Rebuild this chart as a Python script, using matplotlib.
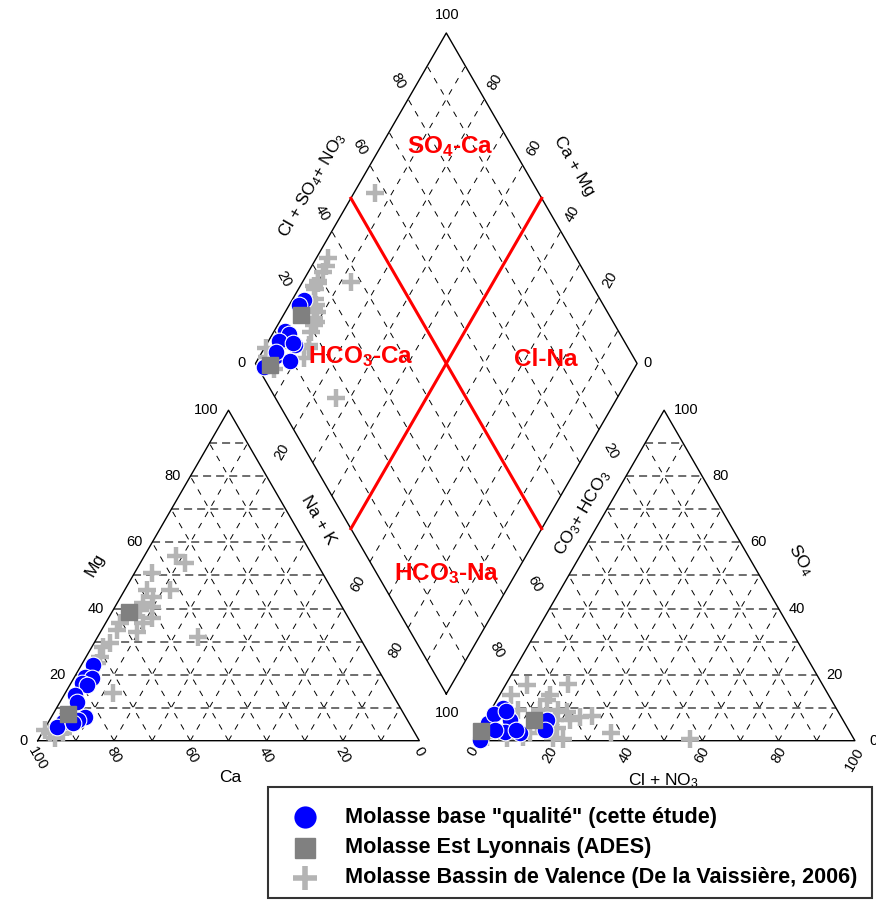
import numpy as np
import matplotlib.pyplot as plt
from matplotlib.patches import Rectangle

plt.rcParams['font.family'] = ['Liberation Sans', 'DejaVu Sans']
plt.rcParams['mathtext.default'] = 'regular'
plt.rcParams['lines.scale_dashes'] = False

# ---------------- data (% meq) ----------------
# Molasse base "qualite" (cette etude)
blue_mg = [22.9, 19.4, 18.9, 17.4, 16.9, 13.8, 11.8, 7.3, 6.3, 5.8, 4.2, 5.3]
blue_na = [3.1, 2.7, 4.7, 2.9, 4.4, 2.9, 4.3, 8.8, 7.5, 3.8, 2.9, 6.7]
blue_so4 = [6.3, 3.2, 9.8, 6.3, 2.2, 2.7, 5.3, 8.0, 9.0, 3.2, 0.2, 3.2]
blue_cl = [16.1, 17.1, 2.9, 6.5, 11.1, 6.9, 1.3, 1.5, 4.0, 4.0, 1.6, 9.7]

# Molasse Est Lyonnais (ADES)
ades_mg = [38.9, 8.1]
ades_na = [4.5, 3.9]
ades_so4 = [6.3, 3.0]
ades_cl = [12.8, 0.5]

# Molasse Bassin de Valence (De la Vaissiere, 2006)
val_mg = [56.0, 53.7, 50.7, 45.6, 45.6, 43.6, 41.6, 40.6, 39.6, 37.0, 35.5, 33.0, 33.5,
          35.5, 31.5, 29.6, 28.4, 25.4, 23.4, 14.5, 4.2, 2.2, 0.7, 3.2, 2.2]
val_na = [8.3, 11.8, 4.5, 11.9, 5.8, 8.5, 6.9, 9.6, 7.0, 11.4, 9.9, 9.5, 4.0,
          3.8, 26.3, 4.2, 3.0, 3.6, 3.8, 12.5, 5.5, 2.1, 4.2, 0.3, 5.6]
val_so4 = [3.8, 9.3, 9.3, 1.2, 12.3, 16.9, 6.3, 0.7, 0.4, 13.8, 5.3, 9.3, 8.8,
           17.1, 2.2, 6.3, 7.5, 13.8, 7.3, 2.2, 0.5, 2.0, 0.7, 3.0, 1.0]
val_cl = [20.0, 7.1, 17.6, 12.5, 13.1, 5.5, 18.3, 20.6, 23.4, 3.1, 14.0, 12.8, 20.1,
          16.3, 13.7, 22.2, 27.3, 13.2, 24.3, 35.1, 56.5, 2.0, 8.4, 2.0, 3.0]

legend_labels = ['Molasse base "qualité" (cette étude)',
                 'Molasse Est Lyonnais (ADES)',
                 'Molasse Bassin de Valence (De la Vaissière, 2006)']

# ---------------- geometry ----------------
H = np.sqrt(3) / 2
GAP = 0.1415
S = 381.6            # pixels per triangle side
X0, Y0 = 37.7, 740.7  # pixel position of the cation triangle's left corner

B = np.array([1 + GAP / 2, GAP * H])
U = np.array([-0.5, H])
V = np.array([0.5, H])


def px(x, y):
    return (x - X0) / S, (Y0 - y) / S


def cation_xy(mg, na):
    mg = np.asarray(mg) / 100
    na = np.asarray(na) / 100
    return na + mg / 2, mg * H


def anion_xy(so4, cl):
    so4 = np.asarray(so4) / 100
    cl = np.asarray(cl) / 100
    return 1 + GAP + cl + so4 / 2, so4 * H


def diamond_xy(na, so4, cl):
    n = np.asarray(na) / 100
    a = (np.asarray(so4) + np.asarray(cl)) / 100
    p = B[:, None] + np.outer(U, 1 - n) + np.outer(V, a)
    return p[0], p[1]


fig = plt.figure(figsize=(8.76, 9.0), dpi=100)
ax = fig.add_axes([0, 0, 1, 1])
ax.set_xlim(-X0 / S, (876 - X0) / S)
ax.set_ylim((Y0 - 900) / S, Y0 / S)
ax.axis('off')

HSTY = dict(color='#555555', lw=1.2, ls=(0, (5.8, 3.6)), zorder=1)
SSTY = dict(color='black', lw=0.7, ls=(0, (4.3, 5.0)), zorder=1)


def tri_grid(x0):
    for i in range(1, 10):
        f = i / 10
        ax.plot([x0 + f / 2, x0 + 1 - f / 2], [f * H, f * H], **HSTY)
        ax.plot([x0 + f, x0 + f / 2], [0, f * H], **SSTY)
        ax.plot([x0 + f, x0 + (1 + f) / 2], [0, (1 - f) * H], **SSTY)
    ax.plot([x0, x0 + 1, x0 + 0.5, x0], [0, 0, H, 0], color='black', lw=1, zorder=2)


tri_grid(0)
tri_grid(1 + GAP)

# diamond grid
for i in range(1, 10):
    f = i / 10
    p0 = B + f * V
    p1 = p0 + U
    ax.plot([p0[0], p1[0]], [p0[1], p1[1]], **SSTY)
    q0 = B + f * U
    q1 = q0 + V
    ax.plot([q0[0], q1[0]], [q0[1], q1[1]], **SSTY)
corners = np.array([B, B + U, B + U + V, B + V, B])
ax.plot(corners[:, 0], corners[:, 1], color='black', lw=1, zorder=2)

# red dividing lines
for p0, p1 in [(B + 0.5 * V, B + 0.5 * V + U), (B + 0.5 * U, B + 0.5 * U + V)]:
    ax.plot([p0[0], p1[0]], [p0[1], p1[1]], color='#ff0000', lw=2.2, zorder=3)

red = dict(color='#ff0000', fontsize=17.5, fontweight='bold', ha='center', va='center', zorder=6)
ax.text(*px(450, 147), r'SO$_4$-Ca', **red)
ax.text(*px(361, 357), r'HCO$_3$-Ca', **red)
ax.text(*px(546, 360), 'Cl-Na', **red)
ax.text(*px(447, 574), r'HCO$_3$-Na', **red)

# ---------------- tick labels ----------------
TK = 10.5
ticks = [0, 20, 40, 60, 80, 100]
for t in ticks:
    f = t / 100
    # Ca along bottom of cation triangle (100 at left)
    ax.text(1 - f, -4 / S, str(t), rotation=-60, ha='center', va='top', fontsize=TK)
    # Mg along left edge
    ax.text(f / 2 - 10 / S, f * H, str(t), ha='right', va='center', fontsize=TK)
    # Cl + NO3 along bottom of anion triangle
    ax.text(1 + GAP + f, -4 / S, str(t), rotation=60, ha='center', va='top', fontsize=TK)
    # SO4 along right edge
    dx = 14 if t == 0 else 10
    ax.text(2 + GAP - f / 2 + dx / S, f * H, str(t), ha='left', va='center', fontsize=TK)

for t in [0, 20, 40, 60, 80]:
    f = t / 100
    p = B + U + f * V
    if t:
        ax.text(p[0] - 10 / S, p[1] + 18 / S, str(t), rotation=-60,
                ha='center', va='center', fontsize=TK)
    else:
        ax.text(p[0] - 10 / S, p[1], '0', ha='right', va='center', fontsize=TK)
    p = B + V + f * U
    if t:
        ax.text(p[0] + 11 / S, p[1] + 17 / S, str(t), rotation=60,
                ha='center', va='center', fontsize=TK)
    else:
        ax.text(p[0] + 6 / S, p[1], '0', ha='left', va='center', fontsize=TK)
for t in [20, 60, 80]:
    f = t / 100
    p = B + U * (1 - f)
    ax.text(p[0] - 12 / S, p[1] - 22 / S, str(t), rotation=60, ha='center', va='center', fontsize=TK)
    p = B + V * (1 - f)
    ax.text(p[0] + 12 / S, p[1] - 22 / S, str(t), rotation=-60, ha='center', va='center', fontsize=TK)
ax.text(*px(447, 15), '100', ha='center', va='center', fontsize=TK)
ax.text(*px(447, 713), '100', ha='center', va='center', fontsize=TK)

# ---------------- axis titles ----------------
TT = 12.5
ax.text(*px(230, 778), 'Ca', ha='center', va='center', fontsize=TT)
ax.text(*px(95, 565), 'Mg', rotation=60, ha='center', va='center', fontsize=TT)
ax.text(*px(318, 520), 'Na + K', rotation=-60, ha='center', va='center', fontsize=TT)
ax.text(*px(312, 185), r'Cl + SO$_4$+ NO$_3$', rotation=60, ha='center', va='center', fontsize=TT)
ax.text(*px(574, 166), 'Ca + Mg', rotation=-60, ha='center', va='center', fontsize=TT)
ax.text(*px(583, 513), r'CO$_3$+ HCO$_3$', rotation=60, ha='center', va='center', fontsize=TT)
ax.text(*px(801, 560), r'SO$_4$', rotation=-60, ha='center', va='center', fontsize=TT)
ax.text(*px(663, 781), r'Cl + NO$_3$', ha='center', va='center', fontsize=TT)

# ---------------- data points ----------------
plus = dict(ls='none', marker='+', ms=13, mew=3.2, color='#b4b4b4', zorder=4)
circ = dict(ls='none', marker='o', ms=12, mfc='#0000ff', mec='white', mew=0.8, zorder=5)
sq = dict(ls='none', marker='s', ms=11, mfc='#808080', mec='#808080', zorder=6)

for data, sty in [((val_mg, val_na, val_so4, val_cl), plus),
                  ((blue_mg, blue_na, blue_so4, blue_cl), circ),
                  ((ades_mg, ades_na, ades_so4, ades_cl), sq)]:
    mg, na, so4, cl = data
    ax.plot(*cation_xy(mg, na), **sty)
    ax.plot(*anion_xy(so4, cl), **sty)
    ax.plot(*diamond_xy(na, so4, cl), **sty)

# ---------------- legend ----------------
lx0, ly0 = px(268, 898)
lx1, ly1 = px(872, 787)
ax.add_patch(Rectangle((lx0, ly0), lx1 - lx0, ly1 - ly0, fill=False,
                       edgecolor='#333333', lw=1.5, zorder=7))
leg_sty = [dict(circ, ms=16, mew=0), dict(sq, ms=15), dict(plus, ms=17, mew=4)]
for k, (lab, sty) in enumerate(zip(legend_labels, leg_sty)):
    yy = 817 + 30.5 * k
    ax.plot(*px(305, yy), **dict(sty, zorder=8))
    ax.text(*px(345, yy), lab, ha='left', va='center', fontsize=15.6, fontweight='bold', zorder=8)

fig.savefig('out.png', dpi=100)
